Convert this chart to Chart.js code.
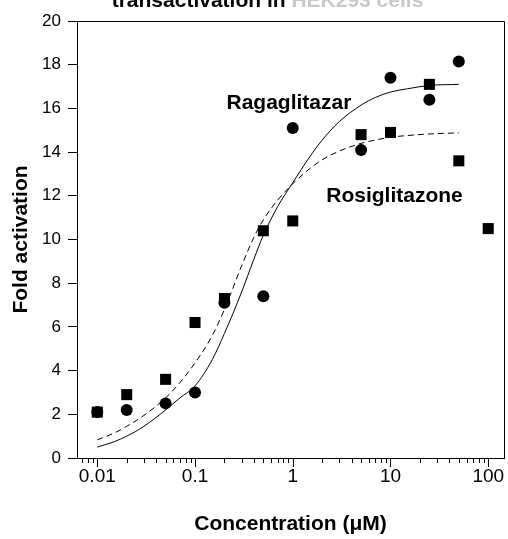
<!DOCTYPE html>
<html>
<head>
<meta charset="utf-8">
<script src="https://cdn.jsdelivr.net/npm/chart.js@4.4.1/dist/chart.umd.min.js"></script>
<style>
  body { margin: 0; background: #fff; }
  canvas { display: block; }
</style>
</head>
<body>
<canvas id="chart" width="508" height="539"></canvas>
<script>
const FONT = '"Liberation Sans", Arial, Helvetica, sans-serif';

// measured activation (fold) at each concentration, µM
const concentrations = [0.01, 0.02, 0.05, 0.1, 0.2, 0.5, 1, 5, 10, 25, 50, 100];
const ragaglitazar = [2.1, 2.2, 2.5, 3.0, 7.1, 7.4, 15.1, 14.1, 17.4, 16.4, 18.15, null];
const rosiglitazone = [2.1, 2.9, 3.6, 6.2, 7.3, 10.4, 10.85, 14.8, 14.9, 17.1, 13.6, 10.5];

// fitted dose-response curves
const fitConc = [0.01, 0.015, 0.02, 0.03, 0.05, 0.07, 0.1, 0.15, 0.2, 0.3, 0.4, 0.5, 0.7, 1, 1.5, 2, 3, 5, 7, 10, 15, 25, 50];
const ragaFit = [0.5, 0.75, 1.0, 1.45, 2.2, 2.75, 3.3, 4.5, 5.7, 7.6, 9.1, 10.2, 11.5, 12.6, 13.8, 14.55, 15.4, 16.15, 16.5, 16.75, 16.9, 17.05, 17.1];
const rosiFit = [0.83, 1.15, 1.45, 1.95, 2.75, 3.45, 4.35, 5.6, 6.8, 8.8, 10.1, 10.9, 11.8, 12.55, 13.25, 13.65, 14.05, 14.4, 14.55, 14.68, 14.76, 14.83, 14.88];

const curveNames = ['Ragaglitazar', 'Rosiglitazone'];
const nameAnchors = [[0.21, 16.25], [2.2, 12.0]]; // [conc, fold] where each name starts
const titleParts = ['transactivation in ', 'HEK293 cells'];

function pairs(xs, ys) {
  return xs.map((x, i) => ({ x, y: ys[i] })).filter((p) => p.y !== null);
}

function isWholeStep(v) {
  const e = Math.floor(Math.log10(v) + 1e-9);
  const s = v / Math.pow(10, e);
  return Math.abs(s - Math.round(s)) < 1e-6;
}

function isDecade(v) {
  const l = Math.log10(v);
  return Math.abs(l - Math.round(l)) < 1e-6;
}

const extras = {
  id: 'extras',
  afterDraw(chart) {
    const { ctx, chartArea: a, scales } = chart;
    const x = scales.x;
    const y = scales.y;
    ctx.save();

    // frame on top and right
    ctx.strokeStyle = '#000';
    ctx.lineWidth = 1;
    ctx.beginPath();
    ctx.moveTo(a.left, Math.round(a.top) + 0.5);
    ctx.lineTo(Math.round(a.right) + 0.5, Math.round(a.top) + 0.5);
    ctx.lineTo(Math.round(a.right) + 0.5, a.bottom);
    ctx.stroke();

    // log ticks below the x axis, long on decades
    ctx.beginPath();
    x.ticks.forEach((t) => {
      if (!isWholeStep(t.value)) return;
      const px = Math.round(x.getPixelForValue(t.value)) + 0.5;
      const len = isDecade(t.value) ? 9 : 5;
      ctx.moveTo(px, a.bottom);
      ctx.lineTo(px, a.bottom + len);
    });
    ctx.stroke();

    // curve names
    ctx.fillStyle = '#000';
    ctx.font = 'bold 21px ' + FONT;
    ctx.textAlign = 'left';
    ctx.textBaseline = 'middle';
    curveNames.forEach((name, i) => {
      const [cx, cy] = nameAnchors[i];
      ctx.fillText(name, x.getPixelForValue(cx), y.getPixelForValue(cy));
    });

    // title line, mostly above the top edge
    ctx.textBaseline = 'alphabetic';
    ctx.font = 'bold 21px ' + FONT;
    const w0 = ctx.measureText(titleParts[0]).width;
    const w1 = ctx.measureText(titleParts[1]).width;
    const tx = (a.left + a.right) / 2 - (w0 + w1) / 2 - 23;
    ctx.fillStyle = '#000';
    ctx.fillText(titleParts[0], tx, 7);
    ctx.fillStyle = '#c8c8c8';
    ctx.fillText(titleParts[1], tx + w0, 7);
    ctx.restore();
  },
};

new Chart(document.getElementById('chart'), {
  type: 'scatter',
  data: {
    datasets: [
      {
        label: 'Ragaglitazar',
        data: pairs(concentrations, ragaglitazar),
        pointStyle: 'circle',
        pointRadius: 6,
        backgroundColor: '#000',
        borderColor: '#000',
        borderWidth: 0,
      },
      {
        label: 'Rosiglitazone',
        data: pairs(concentrations, rosiglitazone),
        pointStyle: 'rect',
        pointRadius: 7.8,
        backgroundColor: '#000',
        borderColor: '#000',
        borderWidth: 0,
      },
      {
        label: 'Ragaglitazar fit',
        type: 'line',
        data: pairs(fitConc, ragaFit),
        borderColor: '#000',
        borderWidth: 1,
        pointRadius: 0,
        cubicInterpolationMode: 'monotone',
        fill: false,
      },
      {
        label: 'Rosiglitazone fit',
        type: 'line',
        data: pairs(fitConc, rosiFit),
        borderColor: '#000',
        borderWidth: 1,
        borderDash: [6, 4],
        pointRadius: 0,
        cubicInterpolationMode: 'monotone',
        fill: false,
      },
    ],
  },
  options: {
    responsive: false,
    animation: false,
    layout: { autoPadding: false, padding: { top: 21, right: 4, left: 0, bottom: 0 } },
    plugins: {
      legend: { display: false },
      tooltip: { enabled: false },
    },
    scales: {
      x: {
        type: 'logarithmic',
        min: 0.0062,
        max: 145,
        afterFit: (s) => {
          s.height = 81;
          s.paddingLeft = 0;
          s.paddingRight = 0;
        },
        border: { color: '#000', width: 1 },
        // tick marks are drawn by the plugin; the transparent ones only space the labels
        grid: { drawOnChartArea: false, drawTicks: true, tickLength: 7, tickColor: 'rgba(0,0,0,0)' },
        ticks: {
          autoSkip: false,
          maxRotation: 0,
          padding: 0,
          color: '#000',
          font: { family: FONT, size: 19 },
          callback: (v) => (isDecade(v) ? String(v) : ''),
        },
        title: {
          display: true,
          text: 'Concentration (μM)',
          color: '#000',
          font: { family: FONT, size: 21, weight: 'bold' },
          padding: { top: 0, bottom: 2 },
        },
      },
      y: {
        min: 0,
        max: 20,
        afterFit: (s) => { s.width = 77; },
        border: { color: '#000', width: 1 },
        grid: { drawOnChartArea: false, tickLength: 9, color: '#000' },
        ticks: {
          stepSize: 2,
          padding: 7,
          color: '#000',
          font: { family: FONT, size: 17 },
        },
        title: {
          display: true,
          text: 'Fold activation',
          color: '#000',
          font: { family: FONT, size: 21, weight: 'bold' },
          padding: { top: 9, bottom: 0 },
        },
      },
    },
  },
  plugins: [extras],
});
</script>
</body>
</html>
